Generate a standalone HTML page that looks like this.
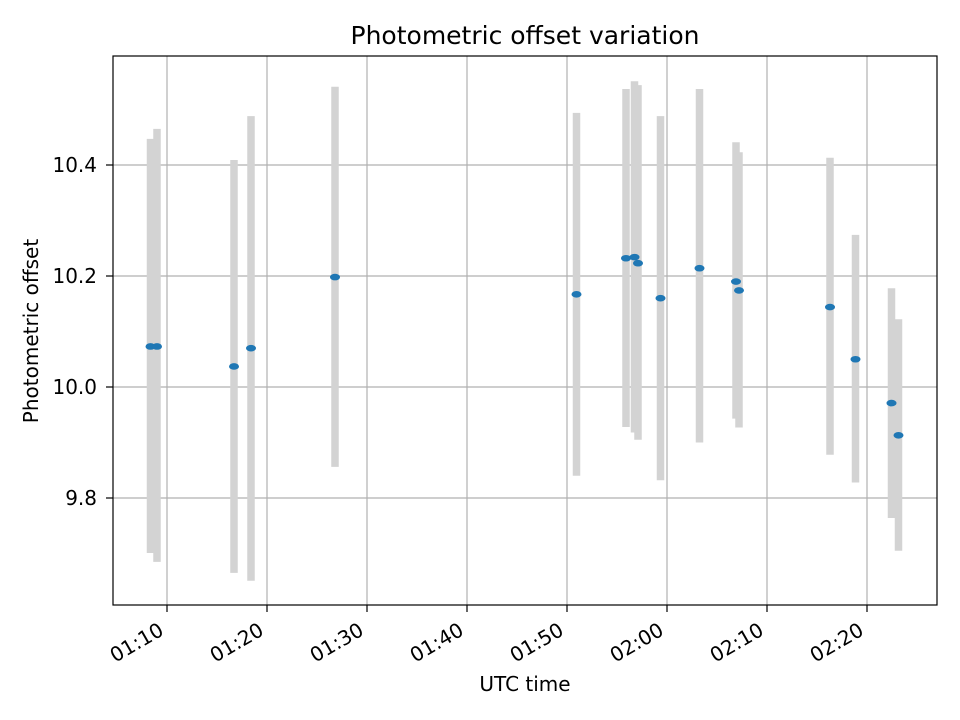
<!DOCTYPE html>
<html><head><meta charset="utf-8"><style>
html,body{margin:0;padding:0;background:#fff;}
svg{display:block;font-family:"DejaVu Sans","Liberation Sans",sans-serif;}
</style></head><body>
<svg id="chart" width="960" height="720" viewBox="0 0 960 720" xmlns="http://www.w3.org/2000/svg">
<rect width="960" height="720" fill="#fff"/>
<g id="grid"></g>
<g id="bars"></g>
<g id="points"></g>
<rect x="113" y="56" width="824" height="549" fill="none" stroke="#000" stroke-width="1.2"/>
<g id="ticks"></g>
<text x="525" y="44" font-size="25" text-anchor="middle">Photometric offset variation</text>
<text x="525" y="691" font-size="20" text-anchor="middle">UTC time</text>
<text transform="translate(38,331) rotate(-90)" font-size="20" text-anchor="middle">Photometric offset</text>
</svg>
<script>
// minutes after 01:00 UTC
const times = [8.35, 9.0, 16.7, 18.4, 26.8, 50.95, 55.9, 56.75, 57.1, 59.35, 63.25, 66.9, 67.2, 76.3, 78.85, 82.45, 83.15];
const values = [10.073, 10.073, 10.037, 10.070, 10.198, 10.167, 10.232, 10.234, 10.223, 10.160, 10.214, 10.190, 10.174, 10.144, 10.050, 9.971, 9.913];
const upper = [10.447, 10.465, 10.409, 10.488, 10.541, 10.494, 10.537, 10.551, 10.544, 10.488, 10.537, 10.441, 10.423, 10.413, 10.274, 10.178, 10.122];
const lower = [9.701, 9.685, 9.665, 9.651, 9.856, 9.840, 9.928, 9.918, 9.905, 9.832, 9.900, 9.943, 9.927, 9.878, 9.828, 9.764, 9.705];
const xTickVals = [10, 20, 30, 40, 50, 60, 70, 80];
const xTickLabels = ["01:10", "01:20", "01:30", "01:40", "01:50", "02:00", "02:10", "02:20"];
const yTickVals = [9.8, 10.0, 10.2, 10.4];
const yTickLabels = ["9.8", "10.0", "10.2", "10.4"];

const NS = "http://www.w3.org/2000/svg";
const X0 = 113, X1 = 937, Y0 = 56, Y1 = 605;
function xs(t){ return 167 + (t - 10) * 10; }
function ys(v){ return 387 - (v - 10) * 555; }
function mk(tag, attrs, parent){
  const e = document.createElementNS(NS, tag);
  for (const k in attrs) e.setAttribute(k, attrs[k]);
  parent.appendChild(e);
  return e;
}
const grid = document.getElementById('grid');
const ticks = document.getElementById('ticks');
const bars = document.getElementById('bars');
const pts = document.getElementById('points');

xTickVals.forEach((t, i) => {
  const x = xs(t);
  const g = mk('line', {x1:x, x2:x, y1:Y0, y2:Y1, stroke:'#b0b0b0', 'stroke-width':1.2}, grid);
  
  
  const tk = mk('line', {x1:x, x2:x, y1:Y1, y2:Y1+7, stroke:'#000', 'stroke-width':1.2}, ticks);
  
  
  const tx = mk('text', {transform:'translate(' + (x-2) + ',634) rotate(-30)', 'font-size':20, 'text-anchor':'end'}, ticks);
  
  
  tx.textContent = xTickLabels[i];
});
yTickVals.forEach((v, i) => {
  const y = ys(v);
  const g = mk('line', {x1:X0, x2:X1, y1:y, y2:y, stroke:'#b0b0b0', 'stroke-width':1.2}, grid);
  
  
  const tk = mk('line', {x1:X0-7, x2:X0, y1:y, y2:y, stroke:'#000', 'stroke-width':1.2}, ticks);
  
  
  const tx = mk('text', {x:97, y:y+7, 'font-size':20, 'text-anchor':'end'}, ticks);
  
  
  tx.textContent = yTickLabels[i];
});
times.forEach((t, i) => {
  const x = xs(t);
  const b = mk('line', {x1:x, x2:x, y1:ys(upper[i]), y2:ys(lower[i]), stroke:'#d3d3d3', 'stroke-width':7.5}, bars);
  
  
});
times.forEach((t, i) => {
  const p = mk('ellipse', {cx:xs(t), cy:ys(values[i]), rx:5, ry:3.3, fill:'#1f77b4'}, pts);
  
  
});
</script>
</body></html>
